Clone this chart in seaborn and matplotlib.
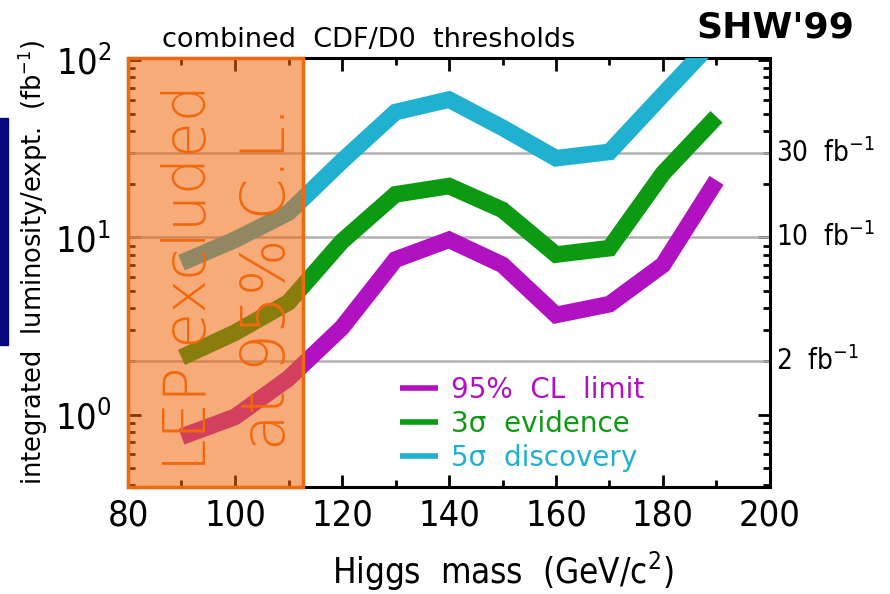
import matplotlib
matplotlib.use("Agg")
import matplotlib.pyplot as plt
import matplotlib.patches as mpatches
import matplotlib.ticker as mticker
import matplotlib.transforms as mtrans
import numpy as np
import pandas as pd
import seaborn as sns

# ---- data ----
mass = [90, 100, 110, 120, 130, 140, 150, 160, 170, 180, 190]
cl95_limit = [0.75, 0.97, 1.6, 3.1, 7.5, 9.7, 7.0, 3.65, 4.2, 7.0, 21]
evidence_3s = [2.1, 2.9, 4.3, 9.5, 17.5, 19.5, 14.3, 8.0, 8.7, 23, 48]
discovery_5s = [7.2, 9.7, 13.8, 27, 51, 60, 41.6, 28, 30.4, 64, 134]
series_names = ["95%  CL  limit", "3\u03c3  evidence", "5\u03c3  discovery"]
series_colors = ["#b012c2", "#0c9a12", "#1fb1cf"]
x_ticks = [80, 100, 120, 140, 160, 180, 200]
grid_levels = [2, 10, 30]
grid_labels = ["2  fb$^{-1}$", "10  fb$^{-1}$", "30  fb$^{-1}$"]
lep_excluded_max = 112.7

df = pd.concat([
    pd.DataFrame({"mass": mass, "lumi": vals, "series": name})
    for name, vals in zip(series_names, [cl95_limit, evidence_3s, discovery_5s])
])

sns.set_style("ticks")
plt.rcParams["font.family"] = ["DejaVu Sans"]
plt.rcParams["font.stretch"] = "condensed"
plt.rcParams["text.color"] = "black"
plt.rcParams["axes.labelcolor"] = "black"
plt.rcParams["xtick.color"] = "black"
plt.rcParams["ytick.color"] = "black"

fig = plt.figure(figsize=(8.90, 5.94), dpi=100)
ax = fig.add_axes([128 / 890, 1 - 487 / 594, (770 - 128) / 890, (487 - 58) / 594])

ax.set_yscale("log")
ax.set_xlim(80, 200)
ax.set_ylim(0.39, 103)

# grid lines at 2, 10, 30 fb^-1
for g in grid_levels:
    ax.axhline(g, color="#b0b0b0", lw=1.8, zorder=1)

sns.lineplot(data=df, x="mass", y="lumi", hue="series", hue_order=series_names,
             palette=series_colors, linewidth=12, ax=ax, zorder=3,
             solid_capstyle="butt", solid_joinstyle="miter", legend=True)

# LEP excluded box
rect = mpatches.Rectangle((80, 0.39), lep_excluded_max - 80, 103 - 0.39,
                          facecolor=(0.94, 0.40, 0.04, 0.55),
                          edgecolor="#f0690f", lw=2.5, zorder=5, clip_on=False)
ax.add_patch(rect)
ax.text(91.6, 5.9, "LEP excluded", rotation=90, color="#f0690f", fontsize=42,
        ha="center", va="center", zorder=6, fontweight="light", fontstretch="normal")
ax.text(106.2, 5.9, "at 95% C.L.", rotation=90, color="#f0690f", fontsize=43,
        ha="center", va="center", zorder=6, fontweight="light", fontstretch="normal")

# legend
leg = ax.legend(loc="lower left", bbox_to_anchor=(0.384, -0.023), frameon=False,
                prop={"size": 20, "stretch": "normal"},
                handlelength=1.4, handletextpad=0.45,
                labelspacing=0.22, labelcolor="linecolor")
for h in leg.get_lines():
    h.set_linewidth(4)

# axes styling
for s in ax.spines.values():
    s.set_linewidth(2.2)
    s.set_color("black")
ax.set_xticks(x_ticks)
ax.xaxis.set_minor_locator(mticker.MultipleLocator(10))
ax.yaxis.set_major_locator(mticker.LogLocator(base=10, numticks=10))
ax.yaxis.set_minor_locator(mticker.LogLocator(base=10, subs=np.arange(2, 10), numticks=20))
ax.yaxis.set_minor_formatter(mticker.NullFormatter())
ax.tick_params(which="both", direction="in", top=True, right=True, width=2, color="black")
ax.tick_params(which="major", length=9, labelsize=26, pad=8)
ax.tick_params(which="minor", length=5)
ax.tick_params(axis="y", which="major", pad=12)

ax.set_xlabel("Higgs  mass  (GeV/c$^2$)", fontsize=25)
ax.xaxis.set_label_coords((503 - 128) / 642, (487 - 550) / 429)
ax.set_ylabel("integrated  luminosity/expt.  (fb$^{-1}$)", fontsize=18.5, fontstretch="normal")
ax.yaxis.set_label_coords((50 - 128) / 642, (487 - 262) / 429)

# right-side labels
trans = mtrans.blended_transform_factory(ax.transAxes, ax.transData)
for g, lab in zip(grid_levels, grid_labels):
    ax.text(1.01, g, lab, transform=trans, fontsize=20, ha="left", va="center")

# titles
fig.text(369 / 890, 1 - 40 / 594, "combined  CDF/D0  thresholds", fontsize=19.5,
         ha="center", va="center", fontstretch="normal")
fig.text(775 / 890, 1 - 27 / 594, "SHW'99", fontsize=26, fontweight="bold",
         ha="center", va="center", fontstretch="normal")

# navy bar at left edge
fig.patches.append(mpatches.Rectangle((0, 1 - 345 / 594), 8 / 890, 227 / 594,
                                      transform=fig.transFigure, color="#0a0a80"))

fig.savefig("out.png", dpi=100)
